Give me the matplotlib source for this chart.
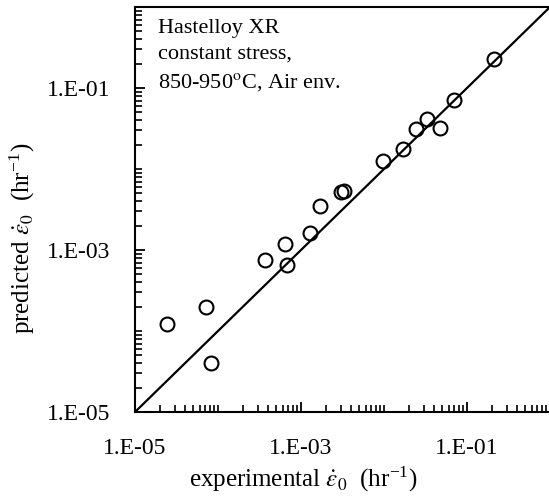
import matplotlib
matplotlib.use("Agg")
import matplotlib.pyplot as plt
from matplotlib.ticker import LogLocator, NullFormatter, FixedLocator

plt.rcParams['font.family'] = ['Liberation Serif', 'DejaVu Serif']
plt.rcParams['mathtext.fontset'] = 'stix'

# experimental vs predicted minimum creep rate (1/hr)
experimental = [2.4e-5, 7.1e-5, 8.3e-5, 3.7e-4, 6.5e-4, 6.7e-4, 1.3e-3, 1.7e-3,
                3.0e-3, 3.3e-3, 9.8e-3, 1.7e-2, 2.4e-2, 3.3e-2, 4.7e-2, 6.9e-2, 2.1e-1]
predicted = [1.23e-4, 2.0e-4, 4.0e-5, 7.6e-4, 1.17e-3, 6.5e-4, 1.6e-3, 3.5e-3,
             5.2e-3, 5.4e-3, 1.26e-2, 1.76e-2, 3.1e-2, 4.2e-2, 3.2e-2, 7.1e-2, 2.3e-1]
line_x = [1e-5, 1.0]
major_ticks = [1e-5, 1e-3, 1e-1]
tick_labels = ['1.E-05', '1.E-03', '1.E-01']

fig = plt.figure(figsize=(5.49, 4.97), dpi=100)
ax = fig.add_axes([135 / 549, 85 / 497, 415 / 549, 405 / 497])

ax.plot(line_x, line_x, color='black', lw=1.6)
ax.plot(experimental, predicted, 'o', ms=10, mfc='none', mec='black', mew=1.5)

ax.set_xscale('log')
ax.set_yscale('log')
ax.set_xlim(1e-5, 1.0)
ax.set_ylim(1e-5, 1.0)

for a in (ax.xaxis, ax.yaxis):
    a.set_major_locator(FixedLocator(major_ticks))
    a.set_minor_locator(LogLocator(base=10, subs=range(1, 10), numticks=20))
    a.set_minor_formatter(NullFormatter())
ax.set_xticklabels(tick_labels)
ax.set_yticklabels(tick_labels)

ax.tick_params(which='major', direction='in', length=7, width=1.3, labelsize=17,
               top=False, right=False)
ax.tick_params(axis='x', which='major', pad=19)
ax.tick_params(axis='y', which='major', pad=18)
ax.tick_params(which='minor', direction='in', length=5, width=1.2,
               top=False, right=False)
for s in ax.spines.values():
    s.set_linewidth(1.5)
ax.spines['right'].set_visible(False)

ax.set_xlabel(r'experimental $\dot{\varepsilon}_{0}$  (hr$^{\mathregular{-1}}$)', fontsize=18)
ax.set_ylabel(r'predicted $\dot{\varepsilon}_{0}$  (hr$^{\mathregular{-1}}$)', fontsize=18)
ax.xaxis.set_label_coords(0.405, -0.13)
ax.yaxis.set_label_coords(-0.235, 0.43)

ax.text(0.055, 0.97, 'Hastelloy XR\nconstant stress,\n850-950$^{\\mathrm{o}}$C, Air env.',
        transform=ax.transAxes, ha='left', va='top', fontsize=16, linespacing=1.45)

fig.savefig('out.png', dpi=100)
